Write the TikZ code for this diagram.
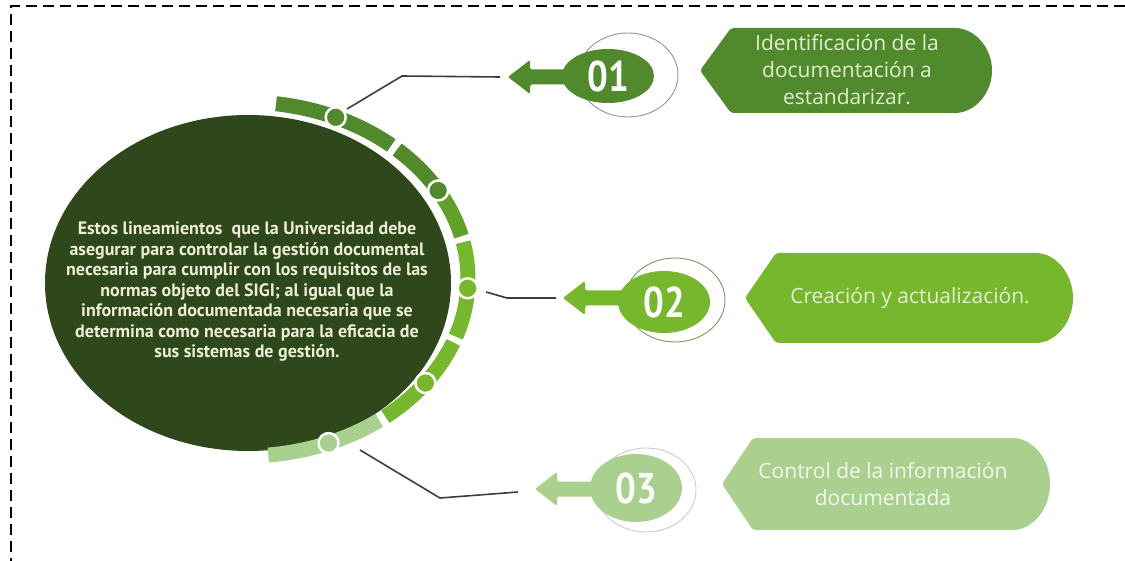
\documentclass[tikz,border=0pt]{standalone}
\usepackage{fontspec}
\setmainfont{Liberation Sans}
\newfontfamily\bodyfont{PT Sans}
\newfontfamily\numfont[FakeStretch=0.85]{PT Sans}
\newfontfamily\labelfont{Open Sans}
\usetikzlibrary{shapes,calc}

\definecolor{darkbody}{RGB}{46,72,28}
\definecolor{gOne}{RGB}{80,138,45}
\definecolor{gMid}{RGB}{98,160,44}
\definecolor{gTwo}{RGB}{119,183,46}
\definecolor{gThree}{RGB}{169,208,142}
\definecolor{creamtext}{RGB}{236,238,214}
\definecolor{tagtext}{RGB}{226,238,208}
\definecolor{linegray}{RGB}{60,60,60}

\begin{document}
\begin{tikzpicture}[x=1pt,y=1pt,
    connector/.style={draw=linegray,line width=1.6pt},
    numblob/.style={ellipse,inner sep=0pt,minimum width=92pt,text=white!95!gThree,
      font=\numfont\bfseries\fontsize{43}{43}\selectfont},
    numring/.style={ellipse,draw=gray!85,line width=0.9pt,minimum width=100pt,
      minimum height=84pt,inner sep=0pt},
    labeltext/.style={align=center,font=\labelfont\fontsize{21}{27}\selectfont},
    ringseg/.style={line width=15pt},
    ringdot/.style={circle,draw=white,line width=2.5pt,minimum size=20pt,inner sep=0pt}]
    \useasboundingbox (0,0) rectangle (1125,-561);
    \def\pointer#1#2#3{
      \fill[#3,rounded corners=1.5pt] (#1,#2) -- ++(22,17) -- ++(0,-9.5) -- ++(45,0)
        -- ++(0,-15) -- ++(-45,0) -- ++(0,-9.5) -- cycle;
    }
    \def\tagbox#1#2#3#4#5{
      \fill[#5,rounded corners=3pt] (#1,#2) -- ++(31,#4) -- (#3,#2+#4)
        arc[start angle=90,end angle=-90,x radius=40,y radius=#4]
        -- (#1+31,#2-#4) -- cycle;
    }
    % Dashed frame
    \draw[line width=2.2pt,dash pattern=on 11pt off 6pt] (1125,-6) -- (11,-6) -- (11,-561);
    % Central ellipse
    \coordinate (ctr) at (245,-279);
    \fill[darkbody] (248,-283) ellipse[x radius=203,y radius=168];
    \node[text=creamtext,align=center,font=\bodyfont\bfseries\fontsize{18}{20.5}\selectfont]
      (body) at (247,-292) {Estos lineamientos\ \ que la Universidad debe\\
      asegurar para controlar la gestión documental\\
      necesaria para cumplir con los requisitos de las\\
      normas objeto del SIGI; al igual que la\\
      información documentada necesaria que se\\
      determina como necesaria para la eficacia de\\
      sus sistemas de gestión.};
    % Ring around the ellipse
    \foreach \a/\b/\c in {82/67/gOne,65/49/gOne,47/31/gOne,29/14/gMid,12/-3/gTwo,
      -3/-19/gTwo,-21/-36/gTwo,-36/-51/gTwo,-53/-68/gThree,-68/-84/gThree}
      \draw[ringseg,\c] ($(ctr)+(\a:223 and 177)$)
        arc[start angle=\a,end angle=\b,x radius=223,y radius=177];
    \foreach \a/\c [count=\i] in {66/gOne,30/gOne,-3/gTwo,-36/gTwo,-68/gThree}
      \node[ringdot,fill=\c] (d\i) at ($(ctr)+(\a:223 and 177)$) {};
    % Connector end points
    \coordinate (r1) at (347,-109);
    \coordinate (k1) at (402,-76);
    \coordinate (e1) at (500,-77);
    \coordinate (r2) at (486,-292);
    \coordinate (k2) at (507,-298);
    \coordinate (e2) at (556,-298);
    \coordinate (r3) at (360,-450);
    \coordinate (k3) at (440,-498);
    \coordinate (e3) at (518,-492);
    \draw[connector] (r1) -- (k1) -- (e1);
    \draw[connector] (r2) -- (k2) -- (e2);
    \draw[connector] (r3) -- (k3) -- (e3);
    % Pointers
    \pointer{508}{-77}{gOne}
    \pointer{563}{-298}{gTwo}
    \pointer{535}{-489}{gThree}
    % Numbered markers
    \node[numring] (o1) at (628,-75) {};
    \node[numring,draw=gray!60!gTwo] (o2) at (675,-300) {};
    \node[numring,draw=gray!40] (o3) at (646,-490) {};
    \node[numblob,fill=gOne,minimum height=54pt] (n1) at (608,-76) {01};
    \node[numblob,fill=gTwo,minimum height=62pt] (n2) at (664,-302) {02};
    \node[numblob,fill=gThree,minimum height=68pt] (n3) at (636,-488) {03};
    % Labels
    \tagbox{700}{-70.5}{952}{42.5}{gOne}
    \tagbox{745}{-298}{1033}{45}{gTwo}
    \tagbox{722}{-484}{1010}{46}{gThree}
    \node[labeltext,text=tagtext] (t1) at (847,-70) {Identificación de la\\documentación a\\estandarizar.};
    \node[labeltext,text=tagtext] (t2) at (910,-298) {Creación y actualización.};
    \node[labeltext,text=white!85!gThree] (t3) at (883,-484) {Control de la información\\documentada};
\end{tikzpicture}
\end{document}
